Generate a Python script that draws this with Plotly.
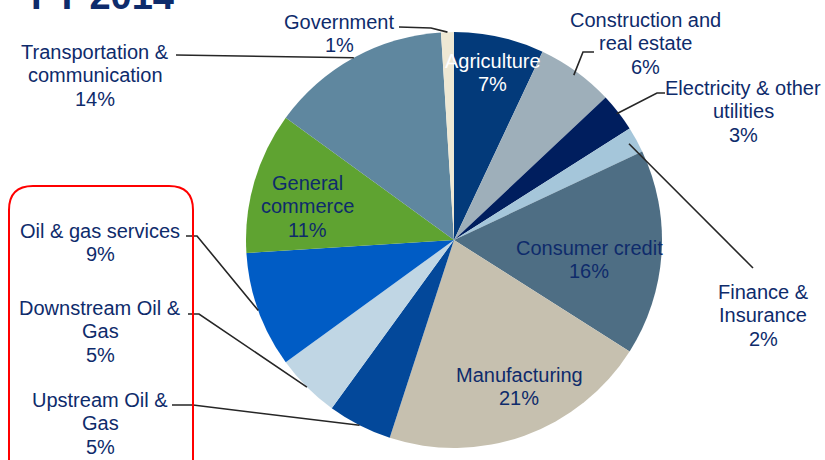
import math
import plotly.graph_objects as go

W, H = 825, 460

# ---------------- data ----------------
categories = [
    "Agriculture", "Construction and real estate", "Electricity & other utilities",
    "Finance & Insurance", "Consumer credit", "Manufacturing", "Upstream Oil & Gas",
    "Downstream Oil & Gas", "Oil & gas services", "General commerce",
    "Transportation & communication", "Government",
]
shares = [7, 6, 3, 2, 16, 21, 5, 5, 9, 11, 14, 1]
label_lines = [
    ["Agriculture"], ["Construction and", "real estate"], ["Electricity & other", "utilities"],
    ["Finance &", "Insurance"], ["Consumer credit"], ["Manufacturing"], ["Upstream Oil &", "Gas"],
    ["Downstream Oil &", "Gas"], ["Oil & gas services"], ["General", "commerce"],
    ["Transportation &", "communication"], ["Government"],
]
title_text = "FY 2014"

# ---------------- styles ----------------
slice_colors = ["#033A7A", "#9EAFBA", "#001E5E", "#A5C6DA", "#4E6E84", "#C6C0AF",
                "#03489A", "#C0D6E4", "#005CC5", "#5FA331", "#5F879F", "#EEE8D4"]
NAVY = "#0E2B6B"
FONT = "Liberation Sans, Arial, sans-serif"
FS = 20
LINE_H = 23.4

# pie geometry (pixels)
CX, CY, R = 454, 240, 208

def px(x):
    return x / W

def py(y):
    return 1 - y / H

# label placement: (center x, first line y, text color, leader points on label side, edge fraction)
placement = {
    "Agriculture": (493, 61, "white", None, None),
    "Construction and real estate": (645, 20, NAVY, [(594, 52), (583, 52)], 0.98),
    "Electricity & other utilities": (743, 88, NAVY, [(665, 93), (657, 93)], 0.99),
    "Finance & Insurance": (763, 292, NAVY, [(753, 268)], 0.96),
    "Consumer credit": (589, 248, NAVY, None, None),
    "Manufacturing": (519, 375, NAVY, None, None),
    "Upstream Oil & Gas": (100, 400, NAVY, [(172, 405), (193, 405)], 1.0),
    "Downstream Oil & Gas": (100, 308, NAVY, [(188, 314), (199, 314)], 1.0),
    "Oil & gas services": (100, 231, NAVY, [(186, 236), (197, 236)], 1.0),
    "General commerce": (307, 183, NAVY, None, None),
    "Transportation & communication": (95, 52, NAVY, [(176, 55)], 1.0),
    "Government": (339, 22, NAVY, [(399, 27), (431, 28)], 1.0),
}

fig = go.Figure(go.Pie(
    labels=categories,
    values=shares,
    sort=False,
    direction="clockwise",
    rotation=0,
    marker=dict(colors=slice_colors, line=dict(width=0)),
    textinfo="none",
    hoverinfo="label+percent",
    showlegend=False,
    domain=dict(x=[px(CX - R), px(CX + R)], y=[py(CY + R), py(CY - R)]),
))

annotations = []
shapes = []
total = sum(shares)
cum = 0
for cat, val, lines in zip(categories, shares, label_lines):
    mid = 2 * math.pi * (cum + val / 2) / total
    cum += val
    cx, y0, col, leader, frac = placement[cat]
    texts = lines + [f"{val}%"]
    for i, t in enumerate(texts):
        annotations.append(dict(
            x=px(cx), y=py(y0 + i * LINE_H), xref="paper", yref="paper",
            text=t, showarrow=False, xanchor="center", yanchor="middle",
            font=dict(family=FONT, size=FS, color=col),
        ))
    if leader:
        ex = CX + frac * R * math.sin(mid)
        ey = CY - frac * R * math.cos(mid)
        pts = leader + [(ex, ey)]
        path = "M " + " L ".join(f"{px(a):.5f},{py(b):.5f}" for a, b in pts)
        shapes.append(dict(type="path", path=path, xref="paper", yref="paper",
                           line=dict(color="#262626", width=1.6)))

# red rounded box around oil & gas labels
x0, x1, y0b, y1b, rr = 9, 193, 186, 490, 24
box = (f"M {px(x0)},{py(y0b + rr)} Q {px(x0)},{py(y0b)} {px(x0 + rr)},{py(y0b)} "
       f"L {px(x1 - rr)},{py(y0b)} Q {px(x1)},{py(y0b)} {px(x1)},{py(y0b + rr)} "
       f"L {px(x1)},{py(y1b - rr)} Q {px(x1)},{py(y1b)} {px(x1 - rr)},{py(y1b)} "
       f"L {px(x0 + rr)},{py(y1b)} Q {px(x0)},{py(y1b)} {px(x0)},{py(y1b - rr)} Z")
shapes.append(dict(type="path", path=box, xref="paper", yref="paper",
                   line=dict(color="#FF0000", width=2)))

# cropped title
annotations.append(dict(
    x=px(29), y=py(19), xref="paper", yref="paper", text=f"<b>{title_text}</b>",
    showarrow=False, xanchor="left", yanchor="bottom",
    font=dict(family=FONT, size=38, color=NAVY),
))

fig.update_layout(
    width=W, height=H,
    margin=dict(l=0, r=0, t=0, b=0),
    paper_bgcolor="white", plot_bgcolor="white",
    annotations=annotations, shapes=shapes,
)

fig.write_html(
    "out.html",
    config={"displayModeBar": False},
    post_script="document.body.style.margin='0';document.body.style.overflow='hidden';",
)
